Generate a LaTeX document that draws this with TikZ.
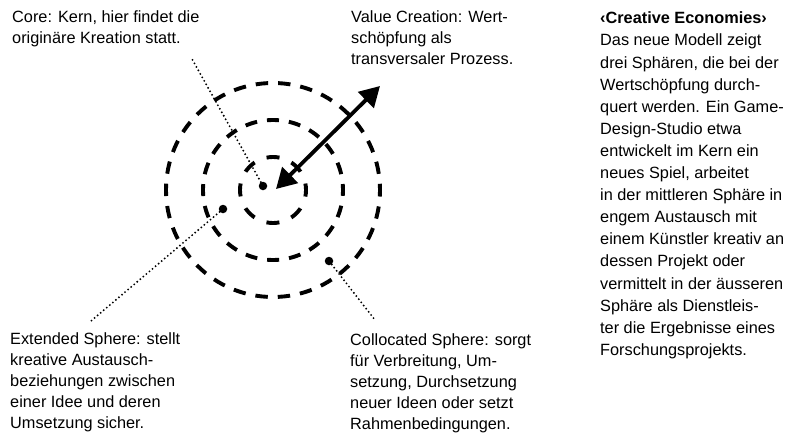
\documentclass[tikz,border=0pt]{standalone}
\usepackage{fontspec}
\setmainfont{Liberation Sans}
\usetikzlibrary{arrows.meta}

\begin{document}
\begin{tikzpicture}[x=1pt,y=-1pt,
    ring/.style={line width=3.9pt},
    spot/.style={circle,fill,inner sep=0pt,minimum size=8.5pt},
    leader/.style={line width=2.1pt,line cap=round,dash pattern=on 0pt off 4pt},
    vcarrow/.style={line width=3.8pt,{Triangle[length=20pt,width=22pt]}-{Triangle[length=20pt,width=22pt]}},
    caption/.style={anchor=north west,inner sep=0pt,align=left,font=\fontsize{16.3}{21.2}\selectfont},
    sidetext/.style={caption,font=\fontsize{16.3}{22.1}\selectfont}]
    \useasboundingbox (0,0) rectangle (791,436);

    \coordinate (m) at (273,190);
    \draw[ring,dash pattern=on 12.4pt off 10pt,dash phase=6.2pt] (m) circle[radius=107pt];
    \draw[ring,dash pattern=on 12pt off 10pt,dash phase=6pt] (m) circle[radius=70pt];
    \draw[ring,dash pattern=on 13pt off 12.9pt,dash phase=6.5pt] (m) circle[radius=33pt];

    \coordinate (vc-in) at (276,189);
    \coordinate (vc-out) at (380,86);
    \draw[vcarrow] (vc-in) -- (vc-out);

    \node[spot] (core) at (263,186) {};
    \node[spot] (ext) at (223,209) {};
    \node[spot] (coll) at (329,261) {};
    \coordinate (core-end) at (192,59);
    \coordinate (ext-end) at (91,321);
    \coordinate (coll-end) at (375,320);
    \draw[leader] (core) -- (core-end);
    \draw[leader] (ext) -- (ext-end);
    \draw[leader] (coll) -- (coll-end);

    \node[caption] (core-txt) at (12,10) {Core: Kern, hier findet die\\originäre Kreation statt.};
    \node[caption] (vc-txt) at (351,10) {Value Creation: Wert-\\schöpfung als\\transversaler Prozess.};
    \node[caption] (ext-txt) at (10,332) {Extended Sphere: stellt\\kreative Austausch-\\beziehungen zwischen\\einer Idee und deren\\Umsetzung sicher.};
    \node[caption] (coll-txt) at (350,333) {Collocated Sphere: sorgt\\für Verbreitung, Um-\\setzung, Durchsetzung\\neuer Ideen oder setzt\\Rahmenbedingungen.};

    \node[sidetext] (side) at (600,11.8) {\textbf{‹Creative Economies›}\\Das neue Modell zeigt\\drei Sphären, die bei der\\Wertschöpfung durch-\\quert werden. Ein Game-\\Design-Studio etwa\\entwickelt im Kern ein\\neues Spiel, arbeitet\\in der mittleren Sphäre in\\engem Austausch mit\\einem Künstler kreativ an\\dessen Projekt oder\\vermittelt in der äusseren\\Sphäre als Dienstleis-\\ter die Ergebnisse eines\\Forschungsprojekts.};
\end{tikzpicture}
\end{document}
